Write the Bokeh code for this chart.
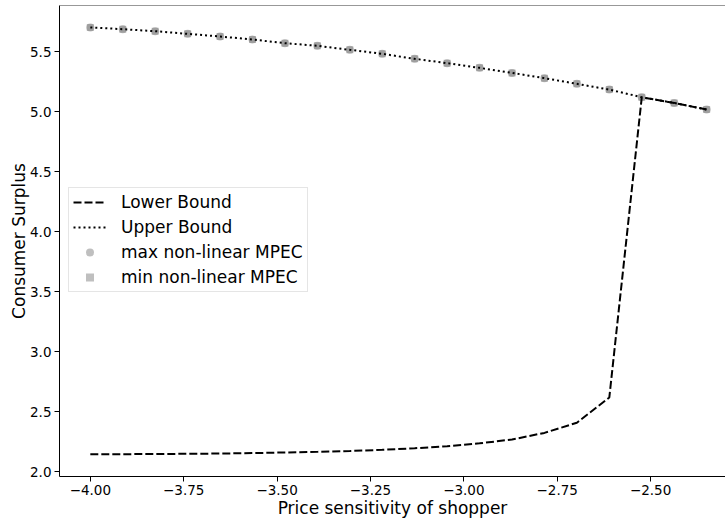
from bokeh.plotting import figure
from bokeh.models import (Range1d, FixedTicker, CustomJSTickFormatter, Legend, LegendItem,
                          ColumnDataSource, Span)
from bokeh.embed import file_html
from bokeh.resources import INLINE

# ---- data ----
x_start = -4.0
x_end = -2.35
n_points = 20
price_sensitivity = [x_start + i * (x_end - x_start) / (n_points - 1) for i in range(n_points)]

upper_bound = [5.700, 5.686, 5.669, 5.647, 5.625, 5.600, 5.569, 5.548, 5.514, 5.481,
               5.439, 5.403, 5.364, 5.322, 5.278, 5.231, 5.183, 5.119, 5.072, 5.017]
lower_bound = [2.147, 2.148, 2.149, 2.151, 2.153, 2.157, 2.162, 2.167, 2.174, 2.184,
               2.197, 2.214, 2.238, 2.270, 2.325, 2.410, 2.620, 5.119, 5.072, 5.017]
max_mpec = [5.700, 5.686, 5.669, 5.647, 5.625, 5.600, 5.569, 5.548, 5.514, 5.481,
            5.439, 5.403, 5.364, 5.322, 5.278, 5.231, 5.183, 5.119, 5.072, 5.017]
min_mpec = [5.700, 5.686, 5.669, 5.647, 5.625, 5.600, 5.569, 5.548, 5.514, 5.481,
            5.439, 5.403, 5.364, 5.322, 5.278, 5.231, 5.183, 5.119, 5.072, 5.017]

x_ticks = [-4.0, -3.75, -3.5, -3.25, -3.0, -2.75, -2.5]
y_ticks = [2.0, 2.5, 3.0, 3.5, 4.0, 4.5, 5.0, 5.5]

X_MIN, X_MAX = -4.0825, -2.2995
Y_MIN, Y_MAX = 1.962, 5.883

FONT = "DejaVu Sans"

p = figure(width=725, height=520, output_backend="svg", toolbar_location=None,
           x_range=Range1d(X_MIN, X_MAX), y_range=Range1d(Y_MIN, Y_MAX),
           min_border_left=59, min_border_right=0, min_border_top=5, min_border_bottom=44)
p.background_fill_color = "white"
p.border_fill_color = "white"
p.grid.visible = False
p.outline_line_color = None

# top spine only (the right spine lies outside the reference image)
p.add_layout(Span(location=Y_MAX, dimension="width", line_color="#333333", line_width=1))

src = ColumnDataSource(dict(x=price_sensitivity, up=upper_bound, lo=lower_bound,
                            mx=max_mpec, mn=min_mpec))

r_max = p.scatter("x", "mx", source=src, marker="circle", size=8,
                  fill_color="gray", line_color=None, fill_alpha=0.5)
r_min = p.scatter("x", "mn", source=src, marker="square", size=7,
                  fill_color="gray", line_color=None, fill_alpha=0.5)
r_up = p.line("x", "up", source=src, line_color="black", line_width=2, line_dash="2 3")
r_lo = p.line("x", "lo", source=src, line_color="black", line_width=2, line_dash="8 3")

legend = Legend(items=[
    LegendItem(label="Lower Bound", renderers=[r_lo]),
    LegendItem(label="Upper Bound", renderers=[r_up]),
    LegendItem(label="max non-linear MPEC", renderers=[r_max]),
    LegendItem(label="min non-linear MPEC", renderers=[r_min]),
], location=(9, 184))
legend.label_text_font = FONT
legend.label_text_font_size = "17px"
legend.label_text_color = "black"
legend.label_height = 20
legend.border_line_color = "#cccccc"
legend.border_line_width = 1
legend.background_fill_alpha = 0.8
legend.glyph_width = 33
legend.glyph_height = 20
legend.label_standoff = 15
legend.spacing = 5
legend.padding = 4
legend.margin = 0
p.add_layout(legend, "center")

for ax in (p.xaxis[0], p.yaxis[0]):
    ax.major_label_text_font = FONT
    ax.major_label_text_font_size = "13.5px"
    ax.major_label_text_color = "black"
    ax.axis_label_text_font = FONT
    ax.axis_label_text_font_size = "17px"
    ax.axis_label_text_font_style = "normal"
    ax.axis_label_text_color = "black"
    ax.axis_line_color = "black"
    ax.major_tick_line_color = "black"
    ax.major_tick_out = 5
    ax.major_tick_in = 0
    ax.minor_tick_line_color = None

p.xaxis.ticker = FixedTicker(ticks=x_ticks)
p.yaxis.ticker = FixedTicker(ticks=y_ticks)
p.xaxis.formatter = CustomJSTickFormatter(code="return tick.toFixed(2).replace('-', '\u2212');")
p.yaxis.formatter = CustomJSTickFormatter(code="return tick.toFixed(1).replace('-', '\u2212');")
p.xaxis.axis_label = "Price sensitivity of shopper"
p.yaxis.axis_label = "Consumer Surplus"
p.xaxis.major_label_standoff = 3
p.yaxis.major_label_standoff = 3
p.xaxis.axis_label_standoff = 0
p.yaxis.axis_label_standoff = -2

open("out.html", "w").write(file_html(p, INLINE))
